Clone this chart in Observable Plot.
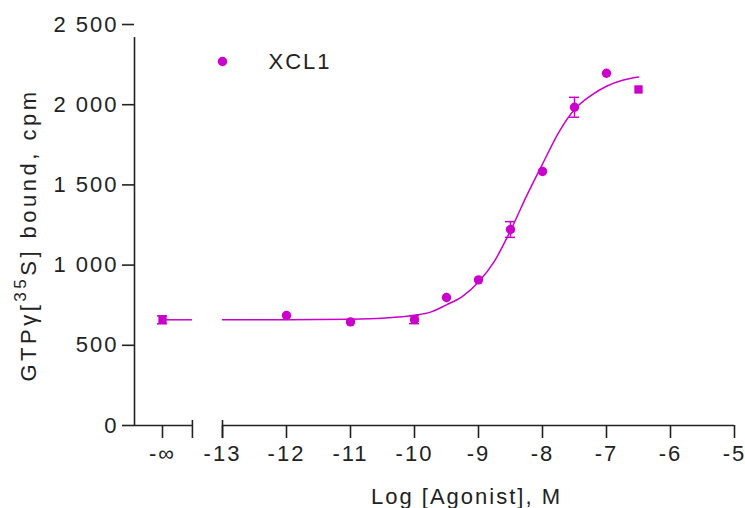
<!DOCTYPE html>
<html><head><meta charset="utf-8">
<script src="https://cdn.jsdelivr.net/npm/d3@7"></script>
<script src="https://cdn.jsdelivr.net/npm/@observablehq/plot@0.6"></script>
<style>body{margin:0;background:#fff}#chart svg{display:block}</style>
</head><body><div id="chart"></div>
<script>
// ---- data ----
const seriesName = "XCL1";
const logConc = [-Infinity, -12, -11, -10, -9.5, -9, -8.5, -8, -7.5, -7, -6.5];
const cpm     = [659, 686, 646, 660, 798, 908, 1222, 1584, 1984, 2196, 2095];
const sem     = [25, 8, 8, 25, 8, 8, 49, 8, 62, 8, 8];
const shapes  = ["square","circle","circle","circle","circle","circle","circle","circle","circle","circle","square"];
const curveLogConc = [-13, -12, -11, -10.5, -10, -9.75, -9.5, -9.25, -9, -8.75, -8.5, -8.25, -8, -7.75, -7.5, -7.25, -7, -6.75, -6.5];
const curveCpm     = [659, 660, 663, 669, 687, 707, 752, 805, 895, 1025, 1215, 1430, 1630, 1825, 1970, 2055, 2115, 2152, 2172];
const xTicks = [-13, -12, -11, -10, -9, -8, -7, -6, -5];
const infLabel = "-∞";
const yTicks = [0, 500, 1000, 1500, 2000, 2500];
const xLabel = "Log [Agonist], M";

// ---- layout of the broken axis ----
const X_LEFT = -14.375, X_INF = -13.9375, X_BREAK = -13.47, X_RIGHT = -5;
const color = "#cc00cc";
const ink = "#222";
const font = "'Liberation Sans', Arial, sans-serif";

const points = logConc.map((c, i) => ({x: c === -Infinity ? X_INF : c, y: cpm[i], e: sem[i], shape: shapes[i]}));
const capped = points.filter(d => d.e >= 20);   // caps smaller than the marker are hidden behind it
const curve = curveLogConc.map((c, i) => ({x: c, y: curveCpm[i]}));
const fmt = d => d3.format(",")(d).replace(/,/g, " ");

const plot = Plot.plot({
  width: 745, height: 508,
  marginLeft: 134, marginRight: 11, marginTop: 24, marginBottom: 83,
  style: {fontFamily: font, fontSize: "22px", color: ink, background: "#fff", overflow: "visible", letterSpacing: "2px"},
  x: {type: "linear", domain: [X_LEFT, X_RIGHT]},
  y: {domain: [0, 2500]},
  marks: [
    Plot.axisY({ticks: yTicks, tickSize: 12, tickPadding: 4, tickFormat: fmt, label: null, strokeWidth: 1.6}),
    Plot.axisX({ticks: xTicks, tickSize: 13, tickPadding: 7, tickFormat: d => String(d), label: null, strokeWidth: 1.6}),
    Plot.axisX({ticks: [X_INF], tickSize: 13, tickPadding: 7, tickFormat: () => infLabel, label: null, strokeWidth: 1.6}),
    Plot.ruleX([X_LEFT], {y1: 0, y2: 2500, insetBottom: -13, stroke: ink, strokeWidth: 1.6}),
    Plot.ruleY([0], {x1: X_LEFT, x2: X_BREAK, stroke: ink, strokeWidth: 1.6}),
    Plot.ruleY([0], {x1: -13, x2: X_RIGHT, stroke: ink, strokeWidth: 1.6}),
    Plot.ruleX([X_BREAK, -13], {y1: 0, y2: 0, insetTop: -5, insetBottom: -13, stroke: ink, strokeWidth: 1.6}),
    // fitted curve
    Plot.ruleY([curveCpm[0]], {x1: X_INF, x2: X_BREAK, stroke: color, strokeWidth: 1.5}),
    Plot.line(curve, {x: "x", y: "y", curve: "monotone-x", stroke: color, strokeWidth: 1.5}),
    // error bars
    Plot.ruleX(points, {x: "x", y1: d => d.y - d.e, y2: d => d.y + d.e, stroke: color, strokeWidth: 1.5}),
    Plot.ruleY(capped, {y: d => d.y + d.e, x1: "x", x2: "x", insetLeft: -5, insetRight: -5, stroke: color, strokeWidth: 1.5}),
    Plot.ruleY(capped, {y: d => d.y - d.e, x1: "x", x2: "x", insetLeft: -5, insetRight: -5, stroke: color, strokeWidth: 1.5}),
    // points
    Plot.dot(points.filter(d => d.shape === "circle"), {x: "x", y: "y", r: 4.7, fill: color, symbol: "circle"}),
    Plot.dot(points.filter(d => d.shape === "square"), {x: "x", y: "y", r: 4.7, fill: color, symbol: "square"}),
    // legend
    Plot.dot([seriesName], {frameAnchor: "top-left", dx: 88, dy: 37, r: 4.7, fill: color}),
    Plot.text([seriesName], {text: d => d, frameAnchor: "top-left", dx: 134, dy: 37, textAnchor: "start", lineAnchor: "middle", fontSize: 22, fill: ink}),
    // x axis title
    Plot.text([xLabel], {text: d => d, frameAnchor: "bottom", dx: 32, dy: 78, lineAnchor: "bottom", fontSize: 22, fill: ink})
  ]
});

// y axis title with superscript
const svg = d3.select(plot);
const t = svg.append("text")
  .attr("transform", "translate(28,235) rotate(-90)")
  .attr("text-anchor", "middle")
  .attr("dominant-baseline", "central")
  .attr("fill", ink)
  .style("font-family", font)
  .style("font-size", "22px")
  .style("letter-spacing", "3.5px");
t.append("tspan").text("GTPγ[");
t.append("tspan").attr("dy", "-8").style("font-size", "17px").text("35");
t.append("tspan").attr("dy", "8").text("S] bound, cpm");

document.getElementById("chart").append(plot);
</script>
</body></html>
